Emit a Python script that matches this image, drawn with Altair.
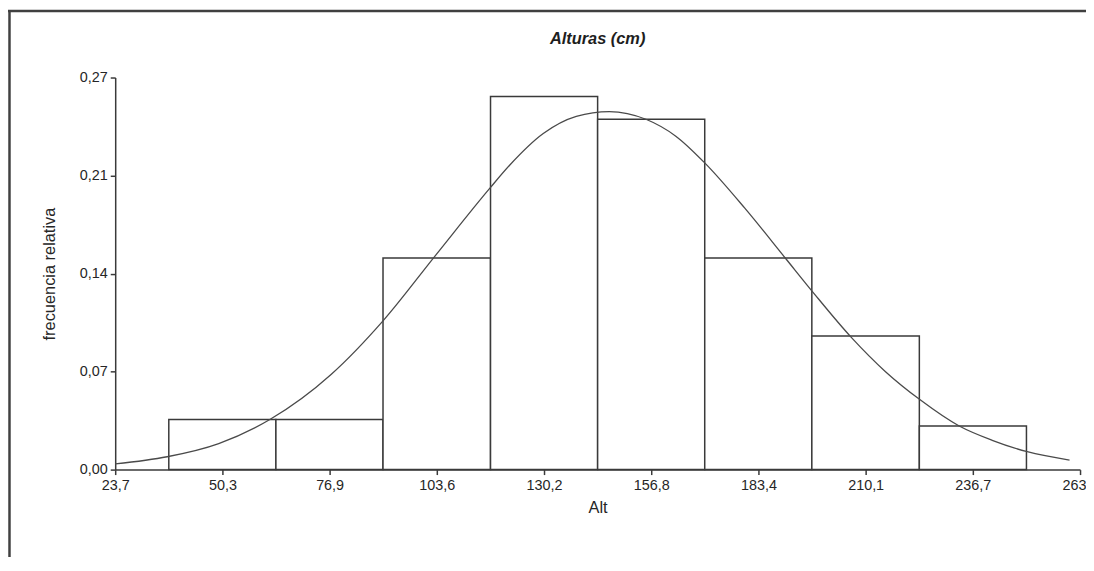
import altair as alt
import pandas as pd

# Histogram bins (cm) and relative frequencies
bin_start = [37.0, 63.6, 90.2, 116.9, 143.5, 170.1, 196.7, 223.4]
bin_end = [63.6, 90.2, 116.9, 143.5, 170.1, 196.7, 223.4, 250.0]
rel_freq = [0.035, 0.035, 0.148, 0.261, 0.245, 0.148, 0.0935, 0.0305]

# Fitted curve, points
curve_x = [23.7, 36.6, 49.4, 62.1, 77.3, 90.2, 103.3, 116.8, 121.7, 130.0, 138.2,
           146.4, 155.5, 163.0, 170.1, 180.0, 190.1, 197.0, 206.5, 215.0, 223.6,
           233.3, 241.5, 250.2, 260.7]
curve_y = [0.0040, 0.0090, 0.0182, 0.0350, 0.0665, 0.1040, 0.1500, 0.1970, 0.2130,
           0.2350, 0.2470, 0.2504, 0.2450, 0.2330, 0.2145, 0.1830, 0.1480, 0.1240,
           0.0925, 0.0685, 0.0488, 0.0305, 0.0205, 0.0125, 0.0067]

# Axis ticks
x_ticks = [23.69, 50.31, 76.94, 103.56, 130.19, 156.81, 183.43, 210.06, 236.68, 263.31]
y_ticks = [0.0, 0.06855, 0.1371, 0.20565, 0.2742]

chart_title = "Alturas (cm)"
x_title = "Alt"
y_title = "frecuencia relativa"

x_domain = [x_ticks[0], x_ticks[-1]]
y_domain = [y_ticks[0], y_ticks[-1]]

FONT = "Liberation Sans"
LINE = "#3a3a3a"
W, H = 972, 395

bars_df = pd.DataFrame({"start": bin_start, "end": bin_end, "freq": rel_freq,
                        "zero": [0.0] * len(rel_freq)})
curve_df = pd.DataFrame({"x": curve_x, "y": curve_y})

x_scale = alt.Scale(domain=x_domain, nice=False, zero=False)
y_scale = alt.Scale(domain=y_domain, nice=False)

x_axis = alt.Axis(title=x_title, values=x_ticks,
                  labelExpr="replace(format(datum.value, '.1f'), '.', ',')",
                  grid=False, tickSize=5, labelPadding=4, titlePadding=8,
                  labelFlush=False, labelOverlap=False)
y_axis = alt.Axis(title=y_title, values=y_ticks,
                  labelExpr="replace(format(datum.value, '.2f'), '.', ',')",
                  grid=False, tickSize=5, labelPadding=3, titlePadding=22,
                  labelFlush=False, labelOverlap=False)

bars = alt.Chart(bars_df).mark_rect(
    fill="white", stroke=LINE, strokeWidth=1.5
).encode(
    x=alt.X("start:Q", scale=x_scale, axis=x_axis),
    x2="end:Q",
    y=alt.Y("freq:Q", scale=y_scale, axis=y_axis),
    y2="zero:Q",
)

curve = alt.Chart(curve_df).mark_line(
    color="#4a4a4a", strokeWidth=1.3, interpolate="monotone"
).encode(
    x=alt.X("x:Q", scale=x_scale),
    y=alt.Y("y:Q", scale=y_scale),
)

title_df = pd.DataFrame({"t": [chart_title]})
title = alt.Chart(title_df).mark_text(
    font=FONT, fontSize=16.5, fontWeight="bold", fontStyle="italic",
    color="#1e1e1e", align="center", baseline="alphabetic"
).encode(
    text="t:N", x=alt.value(W / 2), y=alt.value(-34)
)

one = pd.DataFrame({"k": [0]})
frame_top = alt.Chart(one).mark_rule(color="#404040", strokeWidth=2.5).encode(
    x=alt.value(-108), x2=alt.value(1000), y=alt.value(-67)
)
frame_left = alt.Chart(one).mark_rule(color="#404040", strokeWidth=2.5).encode(
    x=alt.value(-106.5), y=alt.value(-68), y2=alt.value(520)
)

chart = alt.layer(bars, curve, title, frame_top, frame_left).properties(
    width=W,
    height=H,
    autosize=alt.AutoSizeParams(type="none"),
    padding={"left": 108, "top": 68, "right": 6, "bottom": 86},
).configure_view(
    stroke=None
).configure_axis(
    labelFont=FONT, titleFont=FONT, labelFontSize=14.5, titleFontSize=16.5,
    labelColor="#262626", titleColor="#262626", titleFontWeight="normal",
    domainColor=LINE, domainWidth=1.5, tickColor=LINE, tickWidth=1.5
)

chart.save("out.html", embed_options={"renderer": "svg", "actions": False})
